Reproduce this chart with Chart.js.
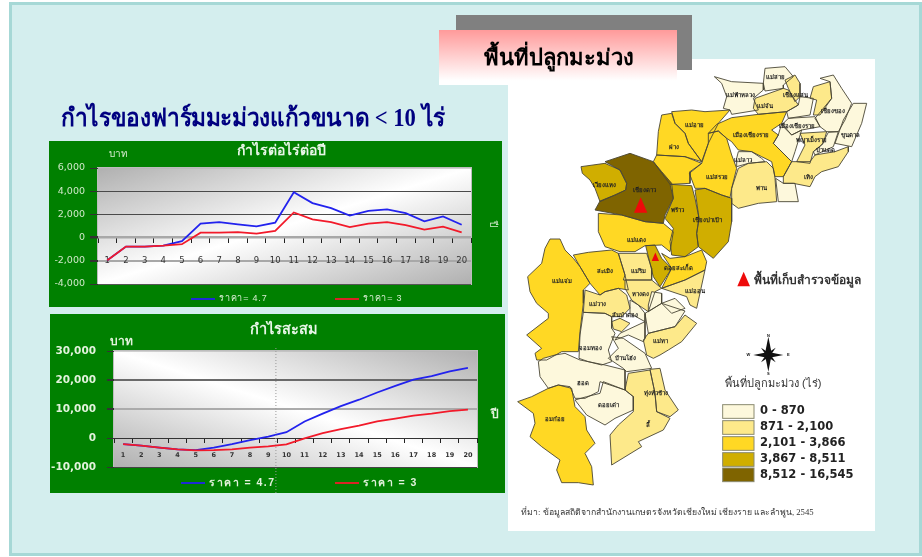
<!DOCTYPE html>
<html><head><meta charset="utf-8">
<script src="https://cdn.jsdelivr.net/npm/chart.js@4"></script>
<style>
html,body{margin:0;padding:0;background:#fff;width:922px;height:557px;overflow:hidden}
.abs{position:absolute}
#panel{left:9px;top:2px;width:907px;height:548px;background:#d4eeee;border:3px solid #a6d8d6}
#gray{left:456px;top:15px;width:236px;height:55px;background:#808080}
#pink{left:439px;top:30px;width:238px;height:55px;background:linear-gradient(#ff9a9a,#ffffff 92%);}
#white{left:508px;top:59px;width:367px;height:472px;background:#fff}
#head1{left:484px;top:40px;font:bold 22px "Liberation Serif",serif;color:#000;white-space:nowrap;filter:blur(.3px)}
#head2{left:61px;top:97px;font:bold 25px "Liberation Serif",serif;color:#000080;white-space:nowrap;filter:blur(.3px);transform:scaleX(.906);transform-origin:left top}
#g1{left:49px;top:141px;width:453px;height:166px;background:#008000}
#g2{left:50px;top:314px;width:455px;height:179px;background:#008000}
canvas{position:absolute;filter:blur(.5px)}
</style></head><body>
<div class="abs" id="panel"></div>
<div class="abs" id="white"></div>
<div class="abs" id="gray"></div>
<canvas id="map" width="375" height="480" style="left:505px;top:55px"></canvas>
<div class="abs" id="pink"></div>
<div class="abs" id="head1">พื้นที่ปลูกมะม่วง</div>
<div class="abs" id="head2">กำไรของฟาร์มมะม่วงแก้วขนาด &lt; 10 ไร่</div>
<div class="abs" id="g1"></div>
<div class="abs" id="g2"></div>
<canvas id="c1" width="453" height="166" style="left:49px;top:141px"></canvas>
<canvas id="c2" width="455" height="179" style="left:50px;top:314px"></canvas>
<script>
const years=['1','2','3','4','5','6','7','8','9','10','11','12','13','14','15','16','17','18','19','20'];
const profitYearBlue=[-1950,-770,-770,-700,-310,1200,1340,1140,970,1290,3910,2970,2540,1890,2310,2430,2110,1400,1830,1110];
const profitYearRed=[-1950,-770,-770,-700,-570,430,430,480,340,570,2170,1570,1340,910,1200,1340,1080,690,940,460];
const cumBlue=[-2100,-2660,-3350,-3930,-4200,-3350,-2100,-700,460,2000,5700,8400,11000,13200,15700,18000,20100,21300,23000,24200];
const cumRed=[-2100,-2660,-3350,-3930,-4280,-4200,-3930,-3350,-2900,-2200,-100,1700,3100,4300,5700,6700,7750,8400,9250,9800];
const classColors=['#fdf8dc','#fde98a','#ffd824','#d0ae00','#7f6400'];
const classLabels=['0 - 870','871 - 2,100','2,101 - 3,866','3,867 - 8,511','8,512 - 16,545'];

const THAI='"Liberation Sans","DejaVu Sans","Noto Sans",sans-serif';
const fmt=v=>Number(v).toLocaleString('en-US');

function frame(opts){return {id:'frame',
  afterLayout(ch){const t=ch.titleBlock;t.left+=opts.titleShift;t.right+=opts.titleShift;},
  beforeDraw(ch){const {ctx,chartArea:a}=ch;
    const w=a.right-a.left,h=a.bottom-a.top,cx=a.left+w/2,cy=a.top+h/2,len=Math.hypot(w,h),L=w*h/len;
    const dx=(opts.flip?-h:h)/len,dy=w/len;
    const g=ctx.createLinearGradient(cx-dx*L,cy-dy*L,cx+dx*L,cy+dy*L);
    g.addColorStop(0,'#b0b0b0');g.addColorStop(.5,'#ffffff');g.addColorStop(1,'#b0b0b0');
    ctx.save();ctx.fillStyle=g;ctx.fillRect(a.left,a.top,w,h);
    ctx.strokeStyle='#bdbdbd';ctx.lineWidth=1;ctx.strokeRect(a.left-.5,a.top-.5,w+1,h+1);ctx.restore();},
  afterDraw(ch){const {ctx}=ch;ctx.save();
    ctx.textBaseline='middle';ctx.textAlign='left';ctx.font=opts.legendFont;ctx.letterSpacing=opts.legendSpacing;
    ch.data.datasets.forEach((d,i)=>{const x=opts.legendX[i],y=opts.legendY;
      ctx.strokeStyle=d.borderColor;ctx.lineWidth=1.8;ctx.beginPath();ctx.moveTo(x,y);ctx.lineTo(x+24,y);ctx.stroke();
      ctx.fillStyle=opts.textColor;ctx.fillText(d.label,x+28,y);});
    ctx.letterSpacing='0px';
    ctx.font=opts.unitFont;ctx.fillStyle=opts.textColor;ctx.textAlign='center';
    ctx.fillText('บาท',opts.unit[0],opts.unit[1]);
    ctx.translate(opts.yearAxis[0],opts.yearAxis[1]);if(opts.rotate)ctx.rotate(Math.PI/2);
    ctx.fillText('ปี',0,0);
    ctx.restore();
    if(opts.divider!==undefined){const x=ch.scales.x.getPixelForValue(opts.divider);
      ctx.save();ctx.setLineDash([1,2]);ctx.strokeStyle='#9a9a9a';ctx.lineWidth=1;ctx.beginPath();ctx.moveTo(x,opts.dividerY[0]);ctx.lineTo(x,opts.dividerY[1]);ctx.stroke();ctx.restore();}
  }};}

function profitChart(id,blue,red,o){
 return new Chart(document.getElementById(id),{type:'line',
  data:{labels:years,datasets:[
   {label:o.names[0],data:blue,borderColor:'#2222ee',borderWidth:1.8,pointRadius:0,tension:0,order:2},
   {label:o.names[1],data:red,borderColor:'#f21a2a',borderWidth:1.8,pointRadius:0,tension:0,order:1}]},
  plugins:[frame(o.frame)],
  options:{responsive:false,animation:false,devicePixelRatio:1,
   layout:{padding:{left:0,right:o.right,top:0,bottom:o.bottom}},
   plugins:{legend:{display:false},tooltip:{enabled:false},
    title:{display:true,text:o.title,color:o.titleColor,font:{family:THAI,size:o.titleSize,weight:'bold',lineHeight:1},padding:{top:o.titleTop,bottom:o.titleBottom}}},
   scales:{
    x:{type:'category',position:{y:0},offset:true,
       grid:{drawOnChartArea:false,drawTicks:true,tickLength:5,tickWidth:1,offset:true,color:'#222',tickColor:'#222'},
       border:{display:false},
       ticks:{padding:o.xPad,color:o.xColor,font:{family:'"DejaVu Sans",sans-serif',size:o.xSize,weight:o.xWeight},maxRotation:0,autoSkip:false}},
    y:{min:o.min,max:o.max,afterFit(s){s.width=o.axisW;},
       afterBuildTicks(s){s.ticks=o.ticks.map(v=>({value:v}));},
       grid:{color:c=>o.grid(c.tick.value).c,lineWidth:c=>o.grid(c.tick.value).w,drawTicks:true,tickLength:o.yTick,tickColor:'#333'},
       border:{display:false},
       ticks:{color:o.yColor,font:{family:'"DejaVu Sans",sans-serif',size:o.ySize,weight:o.yWeight},padding:o.yPad,callback:fmt}}
   }}});
}
const t1=[-4000,-2000,0,2000,4000,6000], t2=[-10000,0,10000,20000,30000];
profitChart('c1',profitYearBlue,profitYearRed,{
  names:['ราคา= 4.7','ราคา= 3'],title:'กำไรต่อไร่ต่อปี',titleColor:'#e8f6e8',titleSize:14,titleTop:3,titleBottom:10,
  right:31,bottom:23,axisW:49,min:-4000,max:6000,ticks:t1,xPad:13,xColor:'#333',xSize:8.5,xWeight:'normal',
  yColor:'#cfe8c8',ySize:9.5,yWeight:'normal',yPad:5,yTick:8,
  grid:v=>({'4000':{c:'#4a4a4a',w:1},'2000':{c:'#4a4a4a',w:1},'0':{c:'#a8a8a8',w:2.5},'-2000':{c:'#a8a8a8',w:2},'6000':{c:'rgba(180,180,180,.6)',w:1},'-4000':{c:'#555',w:1}}[v]),
  frame:{titleShift:21,legendFont:'9px '+THAI,legendSpacing:'.8px',legendX:[142,286],legendY:158,textColor:'#d6ecd0',unitFont:'10px '+THAI,unit:[69,13],yearAxis:[444,83],rotate:true}
});
profitChart('c2',cumBlue,cumRed,{
  names:['ราคา = 4.7','ราคา = 3'],title:'กำไรสะสม',titleColor:'#e8f6e8',titleSize:14.5,titleTop:9,titleBottom:13.5,
  right:28,bottom:26,axisW:64,min:-10000,max:30000,ticks:t2,xPad:8,xColor:'#333',xSize:6.5,xWeight:'bold',
  yColor:'#e2f2dc',ySize:10.5,yWeight:'bold',yPad:11,yTick:7,
  grid:v=>({'20000':{c:'#6a6a6a',w:2},'10000':{c:'#ababab',w:2},'0':{c:'#333',w:1},'30000':{c:'rgba(180,180,180,.6)',w:1},'-10000':{c:'#444',w:1}}[v]),
  frame:{titleShift:20,legendFont:'bold 10.5px '+THAI,legendSpacing:'1.5px',legendX:[131,285],legendY:169,textColor:'#e2f2dc',unitFont:'bold 12px '+THAI,unit:[71,28],yearAxis:[445,101],rotate:false,divider:8.42,dividerY:[34,179],flip:true}
});

/* district outlines, map units (3 units = 1 px) */
const maeAi=[500,170,560,165,600,170,675,165,640,205,610,265,590,320,550,265,540,235,510,205];
const fang=[470,180,500,175,510,205,540,235,550,265,590,320,540,305,455,300,460,230];
const chaiPrakan=[455,300,540,305,590,325,555,350,555,385,495,388,445,320];
const wiangHaeng=[228,335,300,325,345,345,365,385,362,405,330,420,285,440,270,400,255,375,232,355];
const chiangDao=[300,320,375,295,445,320,470,350,500,385,505,430,480,480,475,505,420,500,350,480,270,465,285,438,330,420,362,405,365,385,345,345];
const phrao=[495,388,560,392,570,430,582,490,575,535,580,575,540,605,500,600,495,560,505,520,480,490,505,430];
const wiangPaPao=[570,405,600,400,650,420,680,430,680,500,670,560,625,610,580,575,575,535,582,490];
const maeTaeng=[280,475,350,480,420,500,475,505,505,530,495,590,470,570,420,572,390,590,345,590,300,575,280,530];
const maeSuai=[610,235,640,228,665,250,680,300,695,340,680,400,675,428,650,420,600,400,570,400,553,355,590,325,610,265];
const muangRai=[635,208,680,188,720,183,760,178,845,170,830,205,800,225,820,240,805,265,850,310,860,320,835,365,810,365,800,320,770,305,740,290,700,285,680,260,665,250,640,228,610,235];
const maeLao=[700,290,740,290,770,310,780,320,730,325,695,335,695,310];
const phan=[700,340,730,325,785,320,805,340,810,370,815,440,760,445,700,460,680,445,680,400];
const paDaet=[812,370,835,385,870,385,880,440,820,440];
const thoeng=[835,365,860,320,915,320,930,300,990,290,1030,275,1030,290,1000,335,950,350,930,365,915,395,865,385,835,385];
const phaya=[885,235,965,230,955,265,925,290,915,325,875,320,900,270];
const wiangChai=[830,205,860,240,890,225,870,290,860,320,850,310,805,265,820,240];
const khunTan=[925,290,950,270,970,232,1000,230,985,275,930,300];
const chiangKhong=[945,70,985,60,1010,100,1040,145,1020,195,1000,230,965,230,945,215,930,190,980,130,975,80];
const wiangKaen=[1045,145,1085,145,1070,205,1040,275,990,265,1015,195];
const maeFaLuang=[628,65,680,80,775,85,775,105,745,130,760,165,680,178,675,165,655,160,665,125,650,85];
const maeSai=[780,40,840,35,865,65,835,90,835,100,780,108,775,85];
const chiangSaen=[840,75,870,60,885,85,885,125,870,140,850,100];
const maeChan=[750,130,835,100,850,105,880,150,845,170,760,178,745,160];
const doiLuang=[885,125,925,130,915,180,850,190,845,170,880,150];
const wiangChiangRung=[925,95,975,80,980,130,945,180,925,180,935,135,915,130];
const muangMid=[850,190,930,185,945,215,890,225,860,240,830,210];
const maeChaem=[135,552,165,552,180,585,205,610,225,635,255,685,235,705,235,745,225,830,220,890,170,890,125,915,95,915,90,895,110,880,65,840,130,790,130,775,95,745,75,710,68,665,110,625,120,580];
const samoeng=[205,600,250,592,320,585,340,595,360,660,370,705,340,700,300,710,285,720,255,685,225,635];
const maeRim=[340,595,425,595,440,640,440,675,355,675,360,660];
const muangMai=[422,572,450,570,470,610,500,640,465,695,445,665,435,625];
const doiSaket=[470,595,495,610,540,605,590,585,605,620,600,645,540,675,470,700,500,640];
const maeOn=[600,645,575,760,555,750,545,725,470,700,540,675];
const sanSai=[360,675,440,675,470,700,450,710,430,770,400,750,380,735,360,700];
const muangSmall=[440,710,470,715,470,745,430,770,430,750];
const banThi=[470,745,510,730,540,760,500,775];
const pasang=[470,745,540,768,510,815,430,835,420,775];
const maeTha=[540,780,575,805,530,860,490,885,465,900,445,910,425,900,415,855,430,835,510,815];
const maeWang=[240,705,285,720,300,710,340,700,365,720,375,760,350,785,320,785,300,775,235,772];
const hangDong=[375,735,400,750,420,775,420,800,375,775];
const sanPaTong=[320,800,345,790,375,805,350,830,325,822];
const chomThong=[235,772,300,775,320,785,320,820,330,835,320,860,310,885,320,920,290,930,250,920,222,910,225,840];
const banHong=[345,835,420,800,420,850,415,860,370,840,330,855];
const doiLo=[320,845,355,850,420,895,440,940,365,950,355,940,310,910,340,880];
const hot=[100,920,115,910,150,900,180,895,225,915,300,930,360,945,360,1005,285,980,280,1010,240,1030,210,1030,195,995,160,990,130,1000,105,965];
const doiTao=[210,1035,245,1025,285,1015,295,980,360,1005,385,1025,385,1065,330,1090,300,1110,245,1080];
const omKoi=[38,1040,80,1025,130,1000,160,990,200,1000,210,1055,240,1085,245,1125,270,1165,240,1195,260,1235,265,1290,220,1283,170,1283,155,1245,165,1215,110,1175,75,1145,90,1105,85,1075];
const li=[370,955,435,945,450,1015,455,1070,495,1090,475,1125,400,1160,410,1175,320,1230,315,1140,340,1110,385,1070,385,1025,360,1005];
const thungHua=[435,943,465,940,480,1005,520,1065,495,1085,455,1070,450,1015];

const districtShapes=[maeAi,fang,chaiPrakan,wiangHaeng,chiangDao,phrao,wiangPaPao,maeTaeng,maeSuai,muangRai,maeLao,phan,paDaet,thoeng,phaya,wiangChai,khunTan,chiangKhong,wiangKaen,maeFaLuang,maeSai,chiangSaen,maeChan,doiLuang,wiangChiangRung,muangMid,maeChaem,samoeng,maeRim,sanSai,doiSaket,maeOn,muangMai,muangSmall,banThi,pasang,maeTha,maeWang,hangDong,sanPaTong,chomThong,banHong,doiLo,hot,doiTao,omKoi,li,thungHua];
const districtClasses=[2,2,2,3,4,3,3,2,2,2,0,1,0,1,1,0,0,0,0,0,0,1,1,0,1,0,2,2,1,1,2,1,3,0,0,0,1,1,0,1,0,0,0,0,0,2,1,1];
const districtNames=['แม่อาย','ฝาง','เวียงแหง','เชียงดาว','พร้าว','เชียงปาเป้า','แม่แตง','แม่สรวย','เมืองเชียงราย','เมืองเชียงราย','พาน','เทิง','ขุนตาล','แม่สาย','แม่ฟ้าหลวง','แม่จัน','เชียงแสน','เชียงของ','พญาเม็งราย','ป่าแดด','แม่ลาว','แม่แจ่ม','สะเมิง','แม่ริม','ดอยสะเก็ด','แม่ออน','แม่วาง','หางดง','สันป่าตอง','จอมทอง','บ้านโฮ่ง','แม่ทา','ฮอด','ดอยเต่า','อมก๋อย','ลี้','ทุ่งหัวช้าง'];
const labelX=[568,507,297,418,517,608,393,637,738,875,770,910,1035,810,705,780,870,985,920,960,715,170,300,400,520,570,278,405,360,255,360,465,235,310,150,430,452];
const labelY=[212,277,390,405,465,495,555,368,240,215,400,368,240,68,120,155,120,170,255,285,315,678,650,650,640,708,748,718,780,880,910,858,985,1050,1093,1112,1015];
const triangleX=[407,451,716];
const triangleY=[450,605,672];
const triangleSize=[20,11,19];

const mapPlugin={id:'mapPlugin',
  beforeDatasetsDraw(ch){const {ctx}=ch;
    ch.data.datasets.forEach((d,i)=>{const pts=ch.getDatasetMeta(i).data;
      ctx.beginPath();pts.forEach((p,k)=>k?ctx.lineTo(p.x,p.y):ctx.moveTo(p.x,p.y));ctx.closePath();
      ctx.fillStyle=d.backgroundColor;ctx.fill();});},
  afterDatasetsDraw(ch){const {ctx,scales:{x,y}}=ch;const X=v=>x.getPixelForValue(v),Y=v=>y.getPixelForValue(v);
    ctx.save();
    ctx.fillStyle='#222';ctx.font='bold 6px '+THAI;ctx.textAlign='center';ctx.textBaseline='middle';
    districtNames.forEach((n,i)=>ctx.fillText(n,X(labelX[i]),Y(labelY[i])));
    triangleX.forEach((tx,i)=>{const s=triangleSize[i];ctx.fillStyle='#ee0a0a';ctx.beginPath();ctx.moveTo(X(tx),Y(triangleY[i]-s*1.15));ctx.lineTo(X(tx+s),Y(triangleY[i]+s*1.15));ctx.lineTo(X(tx-s),Y(triangleY[i]+s*1.15));ctx.closePath();ctx.fill();});
    ctx.textAlign='left';ctx.fillStyle='#333';
    ctx.font='bold 12px '+THAI;ctx.fillText('พื้นที่เก็บสำรวจข้อมูล',X(748),Y(678));
    ctx.font='11px '+THAI;ctx.fillText('พื้นที่ปลูกมะม่วง (ไร่)',X(660),Y(988));
    const cx=790,cy=900;ctx.fillStyle='#111';
    [[0,-55],[45,0],[0,50],[-45,0],[22,-22],[22,22],[-22,22],[-22,-22]].forEach(([dx,dy])=>{ctx.beginPath();ctx.moveTo(X(cx-dy*.2),Y(cy+dx*.2));ctx.lineTo(X(cx+dx),Y(cy+dy));ctx.lineTo(X(cx+dy*.2),Y(cy-dx*.2));ctx.closePath();ctx.fill();});
    ctx.font='bold 4px '+THAI;ctx.textAlign='center';
    ctx.fillText('N',X(cx),Y(cy-58));ctx.fillText('E',X(cx+60),Y(cy));ctx.fillText('W',X(cx-60),Y(cy));ctx.fillText('S',X(cx),Y(cy+57));
    ctx.textAlign='left';
    const swY=[1049,1097,1145,1193,1239];
    classColors.forEach((c,i)=>{ctx.fillStyle=c;ctx.strokeStyle='#8a8a70';ctx.lineWidth=1;
      ctx.fillRect(X(653),Y(swY[i]),X(747)-X(653),Y(swY[i]+41)-Y(swY[i]));ctx.strokeRect(X(653),Y(swY[i]),X(747)-X(653),Y(swY[i]+41)-Y(swY[i]));
      ctx.fillStyle='#222';ctx.font='bold 11.5px "DejaVu Sans",sans-serif';ctx.fillText(classLabels[i],X(765),Y(swY[i]+20));});
    ctx.font='8.7px "Liberation Serif",serif';ctx.fillStyle='#333';
    ctx.fillText('ที่มา: ข้อมูลสถิติจากสำนักงานเกษตรจังหวัดเชียงใหม่ เชียงราย และลำพูน, 2545',X(48),Y(1373));
    ctx.restore();}};

new Chart(document.getElementById('map'),{type:'scatter',
  data:{datasets:districtShapes.map((s,i)=>{const pts=[];for(let k=0;k<s.length;k+=2)pts.push({x:s[k],y:s[k+1]});pts.push({x:s[0],y:s[1]});
    return {data:pts,showLine:true,tension:0,pointRadius:0,borderColor:'#4a4636',borderWidth:.9,backgroundColor:classColors[districtClasses[i]]};})},
  plugins:[mapPlugin],
  options:{responsive:false,animation:false,devicePixelRatio:1,
    plugins:{legend:{display:false},tooltip:{enabled:false},title:{display:false}},
    scales:{x:{type:'linear',display:false,min:0,max:1125},y:{type:'linear',display:false,min:0,max:1440,reverse:true}}}});
</script>
</body></html>
